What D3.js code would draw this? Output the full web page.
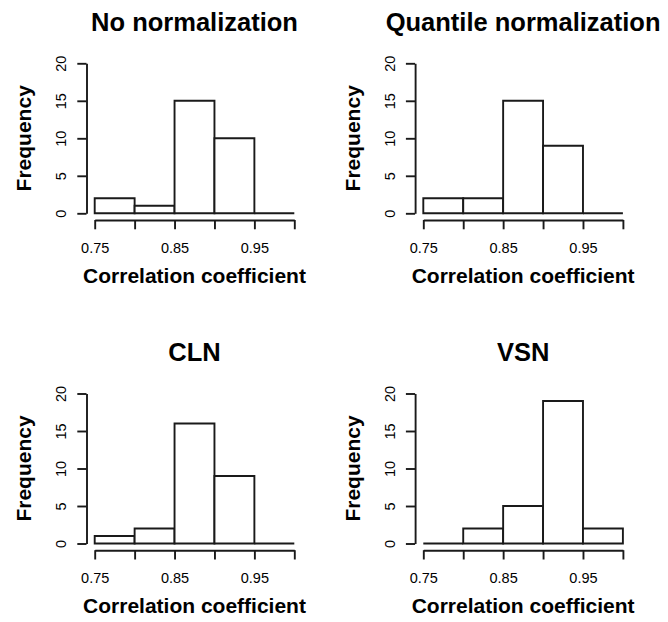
<!DOCTYPE html>
<html>
<head>
<meta charset="utf-8">
<script src="https://cdn.jsdelivr.net/npm/d3@7"></script>
<style>
  body { margin: 0; background: #fff; }
  text { font-family: "Liberation Sans", Arial, Helvetica, sans-serif; fill: #000; }
</style>
</head>
<body>
<svg width="668" height="622"></svg>
<script>
// histogram bins and counts
var breaks = [0.75, 0.80, 0.85, 0.90, 0.95, 1.00];
var titles = ['No normalization', 'Quantile normalization', 'CLN', 'VSN'];
var noNorm = [2, 1, 15, 10, 0];
var quantileNorm = [2, 2, 15, 9, 0];
var clnNorm = [1, 2, 16, 9, 0];
var vsnNorm = [0, 2, 5, 19, 2];
var yTicks = [0, 5, 10, 15, 20];
var xTickLabels = ['0.75', '0.85', '0.95'];

var svg = d3.select('svg');

var colX = [94.7, 423.3];
var rowBase = [213.3, 543.5];
var plotW = 199.6, plotH = 150;
var lineCol = '#1a1a1a';

var panels = [
  {title: titles[0], counts: noNorm, col: 0, row: 0},
  {title: titles[1], counts: quantileNorm, col: 1, row: 0},
  {title: titles[2], counts: clnNorm, col: 0, row: 1},
  {title: titles[3], counts: vsnNorm, col: 1, row: 1}
];

panels.forEach(function(p) {
  var x0 = colX[p.col];
  var yb = rowBase[p.row];

  var xScale = d3.scaleLinear()
    .domain([breaks[0], breaks[breaks.length - 1]])
    .range([x0, x0 + plotW]);
  var yScale = d3.scaleLinear()
    .domain([0, 20])
    .range([yb, yb - plotH]);

  var bins = p.counts.map(function(c, i) {
    return {lo: breaks[i], hi: breaks[i + 1], n: c};
  });

  // paths instead of rects so empty bins still show as a line at 0
  svg.append('g').selectAll('path')
    .data(bins)
    .enter()
    .append('path')
    .attr('d', function(d) {
      var a = xScale(d.lo), b = xScale(d.hi), t = yScale(d.n);
      return 'M' + a + ',' + yb + 'V' + t + 'H' + b + 'V' + yb + 'Z';
    })
    .attr('fill', 'white')
    .attr('stroke', lineCol)
    .attr('stroke-width', 1.9);

  var xAxis = d3.axisBottom(xScale)
    .tickValues(breaks)
    .tickSize(9.3)
    .tickSizeOuter(0)
    .tickFormat(function(d) {
      var s = d3.format('.2f')(d);
      return xTickLabels.indexOf(s) >= 0 ? s : '';
    });

  var gx = svg.append('g')
    .attr('class', 'x-axis')
    .attr('transform', 'translate(0,' + (yb + 6.7) + ')')
    .call(xAxis);
  gx.selectAll('path, line').attr('stroke', lineCol).attr('stroke-width', 1.9);
  gx.selectAll('text')
    .attr('y', 32.5)
    .attr('dy', 0)
    .style('font-size', '14.5px')
    .style('font-family', '"Liberation Sans", Arial, sans-serif')
    .attr('fill', '#000');

  var yAxis = d3.axisLeft(yScale)
    .tickValues(yTicks)
    .tickSize(9.2)
    .tickSizeOuter(0);

  var gy = svg.append('g')
    .attr('class', 'y-axis')
    .attr('transform', 'translate(' + (x0 - 8.2) + ',0)')
    .call(yAxis);
  gy.selectAll('path, line').attr('stroke', lineCol).attr('stroke-width', 1.9);
  gy.selectAll('text')
    .attr('transform', 'rotate(-90)')
    .attr('x', 0)
    .attr('y', -20.5)
    .attr('dy', 0)
    .attr('text-anchor', 'middle')
    .style('font-size', '14.5px')
    .style('font-family', '"Liberation Sans", Arial, sans-serif')
    .attr('fill', '#000');

  svg.append('text')
    .attr('class', 'title')
    .attr('x', x0 + plotW / 2)
    .attr('y', yb - plotH - 32.8)
    .attr('text-anchor', 'middle')
    .style('font-size', '25.5px')
    .style('font-weight', 'bold')
    .text(p.title);

  svg.append('text')
    .attr('class', 'x-label')
    .attr('x', x0 + plotW / 2)
    .attr('y', yb + 6.7 + 62.5)
    .attr('text-anchor', 'middle')
    .style('font-size', '21px')
    .style('font-weight', 'bold')
    .text('Correlation coefficient');

  svg.append('text')
    .attr('class', 'y-label')
    .attr('transform', 'translate(' + (x0 - 8.2 - 55.5) + ',' + (yb - plotH / 2) + ') rotate(-90)')
    .attr('text-anchor', 'middle')
    .style('font-size', '21px')
    .style('font-weight', 'bold')
    .text('Frequency');
});
</script>
</body>
</html>
